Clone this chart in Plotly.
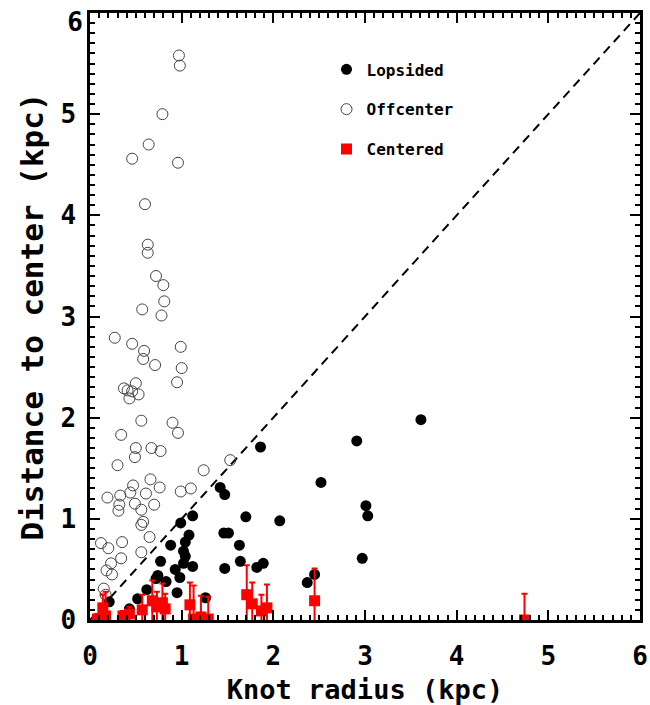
import plotly.graph_objects as go

# Offcenter (open circles)
off_x = [0.97, 0.98, 0.79, 0.64, 0.46, 0.96, 0.60, 0.63, 0.63, 0.72, 0.80, 0.81, 0.57, 0.78,
         0.27, 0.46, 0.99, 0.59, 0.58, 0.71, 1.00, 0.95, 0.50, 0.37, 0.41, 0.46, 0.53, 0.43,
         0.56, 0.90, 0.96, 0.34, 0.50, 0.67, 0.77, 0.49, 1.53, 0.30, 1.24, 0.66, 0.47, 0.76,
         0.99, 1.10, 0.44, 0.61, 0.33, 0.19, 0.49, 0.70, 0.32, 0.31, 0.56, 0.58, 0.56, 0.65,
         0.12, 0.35, 0.20, 0.56, 0.34, 0.23, 0.18, 0.24, 0.15, 0.17]
off_y = [5.58, 5.48, 5.00, 4.70, 4.56, 4.52, 4.11, 3.71, 3.63, 3.40, 3.31, 3.15, 3.07, 3.01,
         2.79, 2.73, 2.70, 2.66, 2.58, 2.52, 2.49, 2.35, 2.34, 2.29, 2.27, 2.26, 2.23, 2.19,
         1.97, 1.95, 1.85, 1.83, 1.70, 1.70, 1.67, 1.61, 1.58, 1.53, 1.48, 1.39, 1.33, 1.31,
         1.27, 1.30, 1.26, 1.25, 1.23, 1.21, 1.15, 1.14, 1.14, 1.08, 1.09, 0.97, 0.94, 0.82,
         0.76, 0.77, 0.71, 0.67, 0.61, 0.56, 0.49, 0.45, 0.31, 0.25]

# Lopsided (filled black)
lop_x = [1.42, 1.47, 1.12, 0.99, 1.46, 1.51, 1.08, 1.04, 0.88, 1.02, 1.04, 0.77, 1.02, 1.12,
         0.93, 1.47, 0.74, 0.72, 0.98, 0.83, 0.62, 0.95, 0.52, 1.26, 0.21, 0.43, 1.86, 2.52,
         1.70, 2.07, 1.63, 1.64, 1.82, 1.89, 2.45, 2.37, 3.61, 2.91, 3.01, 3.03, 2.97]
lop_y = [1.31, 1.24, 1.03, 0.96, 0.86, 0.86, 0.84, 0.77, 0.74, 0.68, 0.63, 0.58, 0.56, 0.53,
         0.50, 0.51, 0.44, 0.41, 0.42, 0.38, 0.30, 0.27, 0.21, 0.22, 0.18, 0.11, 1.71, 1.36,
         1.02, 0.98, 0.74, 0.58, 0.52, 0.56, 0.45, 0.37, 1.98, 1.77, 1.13, 1.03, 0.61]

# Centered (red squares with errors)
cen_x = [0.08, 0.14, 0.17, 0.36, 0.43, 0.57, 0.68, 0.73, 0.79, 0.82, 1.09, 1.13, 1.21, 1.29,
         1.71, 1.77, 1.87, 1.93, 2.45, 4.74]
cen_y = [0.01, 0.12, 0.04, 0.04, 0.06, 0.10, 0.19, 0.13, 0.17, 0.11, 0.15, 0.01, 0.03, 0.01,
         0.25, 0.16, 0.09, 0.12, 0.19, 0.00]
cen_err = [0.05, 0.13, 0.24, 0.05, 0.07, 0.15, 0.20, 0.15, 0.19, 0.15, 0.22, 0.33, 0.21, 0.22,
           0.29, 0.21, 0.16, 0.23, 0.32, 0.26]

diag = [0, 6]
ytop_label = [6]

FONT = "DejaVu Sans Mono"
tickfont = dict(family=FONT, size=26, color="black", weight="bold")

fig = go.Figure()
fig.add_trace(go.Scatter(x=diag, y=diag, mode="lines", showlegend=False,
                         line=dict(color="black", width=2, dash="9px,6px")))
fig.add_trace(go.Scatter(x=off_x, y=off_y, mode="markers", name="Offcenter",
                         legendrank=2, legendgroup="b",
                         marker=dict(symbol="circle-open", size=11, color="#444",
                                     line=dict(width=1, color="#444"))))
fig.add_trace(go.Scatter(x=lop_x, y=lop_y, mode="markers", name="Lopsided",
                         legendrank=1, legendgroup="a",
                         marker=dict(symbol="circle", size=11, color="black")))
fig.add_trace(go.Scatter(x=cen_x, y=cen_y, mode="markers", name="Centered",
                         legendrank=3, legendgroup="c",
                         marker=dict(symbol="square", size=11, color="#ff0000"),
                         error_y=dict(type="data", array=cen_err, symmetric=True,
                                      color="#ff0000", thickness=2, width=3)))
# empty helper trace so the overlay axis carrying the top "6" label is drawn
fig.add_trace(go.Scatter(x=[], y=[], yaxis="y2", showlegend=False, hoverinfo="skip"))

axis_common = dict(
    range=[0, 6], dtick=1, ticks="inside", ticklen=10, tickwidth=2, tickcolor="black",
    showline=True, linecolor="black", linewidth=2.5, mirror="ticks",
    showgrid=False, zeroline=False, ticklabeloverflow="allow", automargin=False,
    minor=dict(dtick=0.1, ticks="inside", ticklen=5, tickwidth=1.5, tickcolor="black"),
    tickfont=tickfont,
)
fig.update_xaxes(**axis_common, ticklabelstandoff=11,
                 title=dict(text="Knot radius (kpc)", standoff=12,
                            font=dict(family=FONT, size=27, color="black", weight="bold")))
fig.update_yaxes(**axis_common, ticklabelstandoff=6, labelalias={"6": " "},
                 title=dict(text="Distance to center (kpc)", standoff=8,
                            font=dict(family=FONT, size=31, color="black", weight="bold")))

fig.update_layout(
    width=650, height=705,
    margin=dict(l=90, r=10, t=13, b=85),
    plot_bgcolor="white", paper_bgcolor="white",
    yaxis2=dict(overlaying="y", side="left", range=[0, 6], tickmode="array",
                tickvals=ytop_label, ticks="", showline=False, showgrid=False,
                zeroline=False, ticklabelshift=9,
                ticklabeloverflow="allow", automargin=False, ticklabelstandoff=6,
                tickfont=tickfont),
    legend=dict(x=0.43, y=0.935, xanchor="left", yanchor="top",
                bgcolor="rgba(0,0,0,0)", tracegroupgap=16,
                font=dict(family=FONT, size=16, color="black", weight="bold")),
)

fig.write_html("out.html")
